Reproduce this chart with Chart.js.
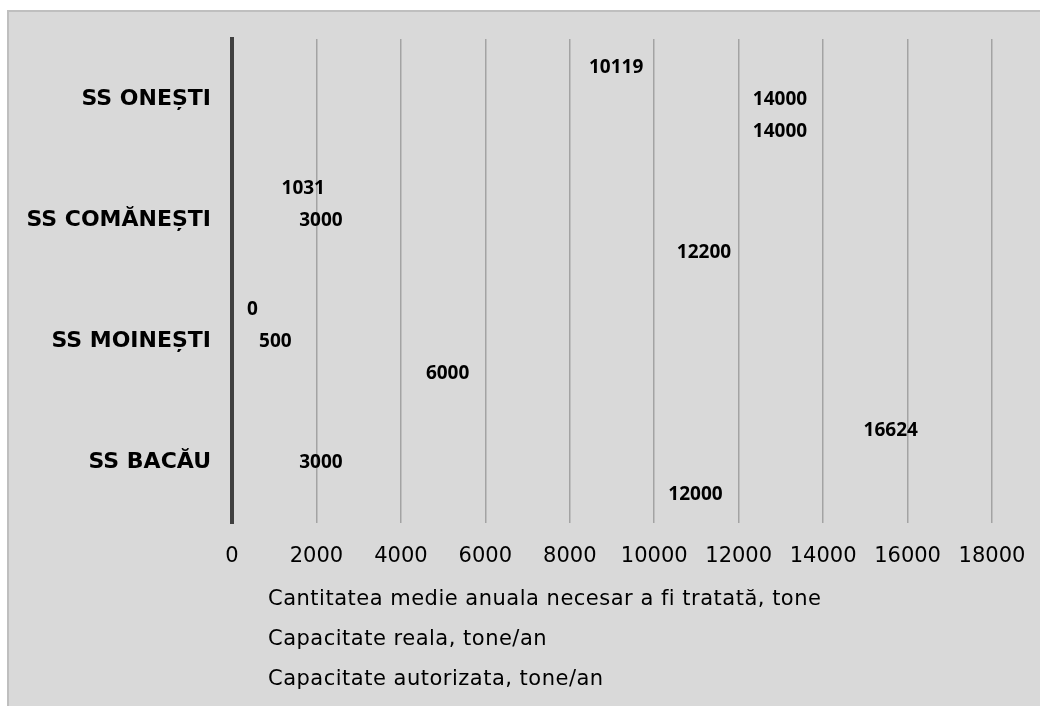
<!DOCTYPE html>
<html>
<head>
<meta charset="utf-8">
<script src="https://cdn.jsdelivr.net/npm/chart.js@4.4.1/dist/chart.umd.min.js"></script>
<style>
  html, body { margin: 0; padding: 0; background: #ffffff; }
  #wrap { width: 1040px; height: 706px; }
</style>
</head>
<body>
<div id="wrap"><canvas id="chart" width="1040" height="706"></canvas></div>
<script>
// Stations, listed top to bottom
const categories = ['SS ONEȘTI', 'SS COMĂNEȘTI', 'SS MOINEȘTI', 'SS BACĂU'];

// Series names
const seriesNames = [
  'Cantitatea medie anuala necesar a fi tratată, tone',
  'Capacitate reala, tone/an',
  'Capacitate autorizata, tone/an'
];

// Values per station (tone)
const cantitateaMedie      = [10119, 1031, 0, 16624];
const capacitateReala      = [14000, 3000, 500, 3000];
const capacitateAutorizata = [14000, 12200, 6000, 12000];

// Value axis range
const axisMin = 0;
const axisMax = 18000;
const axisStep = 2000;

const PANEL = '#d9d9d9';

// Panel background with a thin frame on the top and left edges
const panelBackground = {
  id: 'panelBackground',
  beforeDraw(chart) {
    const ctx = chart.ctx;
    ctx.save();
    ctx.fillStyle = '#ffffff';
    ctx.fillRect(0, 0, chart.width, chart.height);
    ctx.fillStyle = '#bfbfbf';
    ctx.fillRect(7, 10, chart.width - 7, chart.height - 10);
    ctx.fillStyle = PANEL;
    ctx.fillRect(9, 12, chart.width - 9, chart.height - 12);
    ctx.restore();
  }
};

// Value labels at the end of each bar: inside when there is room, otherwise just past the end
const barValueLabels = {
  id: 'barValueLabels',
  afterDatasetsDraw(chart) {
    const ctx = chart.ctx;
    const area = chart.chartArea;
    ctx.save();
    ctx.font = 'bold 19px "Open Sans"';
    ctx.fillStyle = '#000000';
    ctx.textBaseline = 'middle';
    chart.data.datasets.forEach((ds, di) => {
      const meta = chart.getDatasetMeta(di);
      meta.data.forEach((bar, i) => {
        const text = String(ds.data[i]);
        const w = ctx.measureText(text).width;
        const len = bar.x - bar.base;
        if (len >= w + 32) {
          ctx.textAlign = 'right';
          ctx.fillText(text, bar.x - 16, bar.y);
        } else {
          ctx.textAlign = 'left';
          ctx.fillText(text, Math.max(bar.x + 6, area.left + 15), bar.y);
        }
      });
    });
    ctx.restore();
  }
};

// Legend as a plain list of series names under the axis
const seriesList = {
  id: 'seriesList',
  afterDraw(chart) {
    const ctx = chart.ctx;
    ctx.save();
    ctx.font = '21px "DejaVu Sans"';
    ctx.letterSpacing = '0.5px';
    ctx.fillStyle = '#000000';
    ctx.textAlign = 'left';
    ctx.textBaseline = 'middle';
    chart.data.datasets.forEach((ds, i) => {
      ctx.fillText(ds.label, 268, 600 + i * 40);
    });
    ctx.restore();
  }
};

const seriesValues = [cantitateaMedie, capacitateReala, capacitateAutorizata];

new Chart(document.getElementById('chart'), {
  type: 'bar',
  data: {
    labels: categories,
    datasets: seriesValues.map((vals, i) => ({
      label: seriesNames[i],
      data: vals,
      backgroundColor: 'rgba(0,0,0,0)',
      borderWidth: 0,
      categoryPercentage: 0.8,
      barPercentage: 1.0
    }))
  },
  options: {
    indexAxis: 'y',
    responsive: false,
    animation: false,
    devicePixelRatio: 1,
    layout: { padding: { top: 39, right: 48, bottom: 0, left: 0 } },
    plugins: {
      legend: { display: false },
      tooltip: { enabled: false }
    },
    scales: {
      x: {
        min: axisMin,
        max: axisMax,
        ticks: {
          stepSize: axisStep,
          color: '#000000',
          padding: 21,
          font: { family: '"DejaVu Sans"', size: 21 },
          callback: (v) => String(v)
        },
        grid: { color: '#a3a3a3', lineWidth: 1.5, drawTicks: false },
        border: { display: false },
        afterFit(scale) {
          scale.height = 183;
          scale.paddingLeft = 0;
          scale.paddingRight = 0;
        }
      },
      y: {
        ticks: {
          color: '#000000',
          padding: 21,
          font: { family: '"DejaVu Sans"', size: 22, weight: 'bold' }
        },
        grid: { display: false, drawTicks: false },
        border: { display: true, color: '#404040', width: 4 },
        afterFit(scale) { scale.width = 232; }
      }
    }
  },
  plugins: [panelBackground, barValueLabels, seriesList]
});
</script>
</body>
</html>
